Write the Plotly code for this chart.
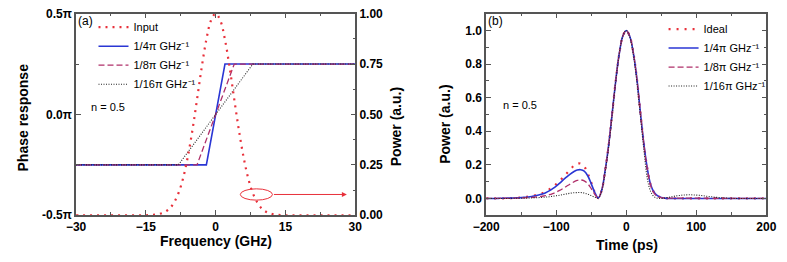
import plotly.graph_objects as go

# ---------------- Panel (a) data ----------------
freq = list(range(-30, 31))
input_power = [0, 0, 0, 0, 0, 0, 0, 0, 0, 0, 0, 0, 0, 0, 0, 0,
               0.001, 0.003, 0.007, 0.015, 0.031, 0.061, 0.109, 0.183, 0.288, 0.421,
               0.575, 0.733, 0.871, 0.966, 1.0, 0.966, 0.871, 0.733, 0.575, 0.421,
               0.288, 0.183, 0.109, 0.061, 0.031, 0.015, 0.007, 0.003, 0.001,
               0, 0, 0, 0, 0, 0, 0, 0, 0, 0, 0, 0, 0, 0, 0, 0]

phase_f_q = [-30, -2, 2, 30]
phase_q = [-0.25, -0.25, 0.25, 0.25]      # units of pi
phase_f_e = [-30, -4, 4, 30]
phase_e = [-0.25, -0.25, 0.25, 0.25]
phase_f_s = [-30, -8, 8, 30]
phase_s = [-0.25, -0.25, 0.25, 0.25]

# ---------------- Panel (b) data ----------------
time_ps = list(range(-200, 205, 5))
ideal = [0, 0, 0, 0, 0.001, 0.001, 0.002, 0.002,
         0.003, 0.004, 0.006, 0.008, 0.011, 0.015, 0.019, 0.024, 0.031, 0.041, 0.053, 0.067,
         0.085, 0.105, 0.126, 0.149, 0.172, 0.194, 0.208, 0.207, 0.19, 0.15, 0.095, 0.038, 0.002,
         0.05, 0.17, 0.32, 0.51, 0.70, 0.86, 0.965, 1.0, 0.965, 0.87, 0.72, 0.52, 0.33, 0.18,
         0.08, 0.035, 0.015, 0.006, 0.002, 0.0,
         0, 0, 0, 0, 0, 0, 0, 0, 0, 0, 0, 0, 0, 0, 0, 0, 0, 0, 0, 0, 0, 0, 0, 0, 0, 0, 0, 0]
quarter = [0, 0, 0, 0, 0.001, 0.001, 0.002, 0.002,
           0.003, 0.004, 0.005, 0.007, 0.009, 0.012, 0.016, 0.020, 0.026, 0.034, 0.045, 0.058,
           0.073, 0.091, 0.110, 0.128, 0.145, 0.159, 0.169, 0.171, 0.163, 0.135, 0.088, 0.036, 0.003,
           0.05, 0.17, 0.32, 0.51, 0.70, 0.86, 0.965, 1.0, 0.965, 0.87, 0.72, 0.52, 0.33, 0.18,
           0.08, 0.035, 0.015, 0.006, 0.002, 0.0,
           0, 0, 0, 0, 0, 0, 0, 0, 0, 0, 0, 0, 0, 0, 0, 0, 0, 0, 0, 0, 0, 0, 0, 0, 0, 0, 0, 0]
eighth = [0, 0, 0, 0, 0, 0.001, 0.001, 0.001,
          0.002, 0.002, 0.003, 0.004, 0.005, 0.006, 0.008, 0.010, 0.013, 0.017, 0.022, 0.029,
          0.038, 0.048, 0.060, 0.073, 0.086, 0.098, 0.107, 0.110, 0.105, 0.088, 0.058, 0.025, 0.002,
          0.05, 0.17, 0.32, 0.51, 0.70, 0.86, 0.965, 1.0, 0.965, 0.87, 0.72, 0.52, 0.33, 0.175,
          0.075, 0.03, 0.012, 0.005, 0.002, 0.001,
          0.002, 0.002, 0.002, 0.002, 0.002, 0.002, 0.002, 0.002, 0.002, 0.002, 0.001, 0.001, 0.001, 0.001,
          0, 0, 0, 0, 0, 0, 0, 0, 0, 0, 0, 0, 0, 0]
sixteenth = [0, 0, 0, 0, 0, 0, 0, 0,
             0.001, 0.001, 0.001, 0.002, 0.002, 0.003, 0.004, 0.005, 0.006, 0.008, 0.010, 0.013,
             0.016, 0.019, 0.023, 0.027, 0.031, 0.034, 0.035, 0.035, 0.032, 0.026, 0.017, 0.008, 0.002,
             0.045, 0.16, 0.31, 0.50, 0.70, 0.86, 0.965, 1.0, 0.96, 0.86, 0.70, 0.50, 0.30, 0.12,
             0.04, 0.01, 0.001, 0.0, 0.002, 0.006,
             0.010, 0.014, 0.017, 0.020, 0.021, 0.022, 0.021, 0.020, 0.018, 0.016, 0.013, 0.011, 0.008, 0.006,
             0.004, 0.003, 0.002, 0.001, 0, 0, 0, 0, 0, 0, 0, 0, 0, 0]

labels_a = ["Input", "1/4\u03c0 GHz\u207b\u00b9", "1/8\u03c0 GHz\u207b\u00b9", "1/16\u03c0 GHz\u207b\u00b9"]
labels_b = ["Ideal", "1/4\u03c0 GHz\u207b\u00b9", "1/8\u03c0 GHz\u207b\u00b9", "1/16\u03c0 GHz\u207b\u00b9"]
phase_ticks = [-0.5, 0.0, 0.5]
phase_ticktext = ["-0.5\u03c0", "0.0\u03c0", "0.5\u03c0"]

RED = "#e8303a"
BLUE = "#2a36d4"
PURPLE = "#b0306a"
BLACK = "#222222"
FONT = "Liberation Sans"

W, H = 787, 262
fig = go.Figure()

# Panel (a)
fig.add_trace(go.Scatter(x=freq, y=input_power, name=labels_a[0], mode="lines", line_shape="spline",
                         line=dict(color=RED, width=2.2, dash="2px,5px"), xaxis="x", yaxis="y2", legend="legend"))
fig.add_trace(go.Scatter(x=phase_f_q, y=phase_q, name=labels_a[1], mode="lines",
                         line=dict(color=BLUE, width=1.6), xaxis="x", yaxis="y", legend="legend"))
fig.add_trace(go.Scatter(x=phase_f_e, y=phase_e, name=labels_a[2], mode="lines",
                         line=dict(color=PURPLE, width=1.3, dash="6px,3px"), xaxis="x", yaxis="y", legend="legend"))
fig.add_trace(go.Scatter(x=phase_f_s, y=phase_s, name=labels_a[3], mode="lines",
                         line=dict(color=BLACK, width=1.1, dash="1px,1.5px"), xaxis="x", yaxis="y", legend="legend"))

# Panel (b)
fig.add_trace(go.Scatter(x=time_ps, y=ideal, name=labels_b[0], mode="lines", line_shape="spline",
                         line=dict(color=RED, width=2.2, dash="2px,6px"), xaxis="x2", yaxis="y3", legend="legend2"))
fig.add_trace(go.Scatter(x=time_ps, y=quarter, name=labels_b[1], mode="lines", line_shape="spline",
                         line=dict(color=BLUE, width=1.6), xaxis="x2", yaxis="y3", legend="legend2"))
fig.add_trace(go.Scatter(x=time_ps, y=eighth, name=labels_b[2], mode="lines", line_shape="spline",
                         line=dict(color=PURPLE, width=1.3, dash="6px,3px"), xaxis="x2", yaxis="y3", legend="legend2"))
fig.add_trace(go.Scatter(x=time_ps, y=sixteenth, name=labels_b[3], mode="lines", line_shape="spline",
                         line=dict(color=BLACK, width=1.1, dash="1px,1.5px"), xaxis="x2", yaxis="y3", legend="legend2"))

axis_common = dict(showgrid=False, zeroline=False, showline=True, linecolor="#555555", linewidth=1.5,
                   ticks="inside", ticklen=5, tickwidth=1.2, tickcolor="#555555",
                   tickfont=dict(family=FONT, size=12, color="black", weight="bold"))
minor_common = dict(ticks="inside", ticklen=3, tickwidth=1, tickcolor="#555555")

x_dom_a = [64 / W, 352 / W]
x_dom_b = [487 / W, 776 / W]
y_dom = [(H - 220) / H, (H - 7) / H]

fig.update_layout(
    width=W, height=H, margin=dict(l=0, r=0, t=0, b=0),
    paper_bgcolor="white", plot_bgcolor="white",
    font=dict(family=FONT, size=11, color="black"),
    xaxis=dict(domain=x_dom_a, range=[-30, 30], tickvals=[-30, -15, 0, 15, 30], mirror="ticks",
               minor=dict(dtick=7.5, **minor_common), anchor="y", **axis_common),
    yaxis=dict(domain=y_dom, range=[-0.5, 0.5], tickvals=phase_ticks, ticktext=phase_ticktext,
               minor=dict(dtick=0.25, **minor_common), anchor="x", mirror=False, **axis_common),
    yaxis2=dict(domain=y_dom, range=[0, 1], overlaying="y", side="right", anchor="x",
                tickvals=[0, 0.25, 0.5, 0.75, 1.0], ticktext=["0.00", "0.25", "0.50", "0.75", "1.00"],
                minor=dict(dtick=0.125, **minor_common), **axis_common),
    xaxis2=dict(domain=x_dom_b, range=[-200, 200], tickvals=[-200, -100, 0, 100, 200], mirror="ticks",
                minor=dict(dtick=50, **minor_common), anchor="y3", **axis_common),
    yaxis3=dict(domain=y_dom, range=[-0.1, 1.1], tickvals=[0, 0.2, 0.4, 0.6, 0.8, 1.0],
                ticktext=["0.0", "0.2", "0.4", "0.6", "0.8", "1.0"], mirror="ticks",
                minor=dict(dtick=0.1, **minor_common), anchor="x2", **axis_common),
    legend=dict(x=82 / W, y=1 - 6 / H, xanchor="left", yanchor="top", bgcolor="rgba(0,0,0,0)",
                font=dict(family=FONT, size=11), tracegroupgap=0, itemwidth=30),
    legend2=dict(x=670 / W, y=1 - 8 / H, xanchor="left", yanchor="top", bgcolor="rgba(0,0,0,0)",
                 font=dict(family=FONT, size=11), tracegroupgap=0, itemwidth=30),
    showlegend=True,
)

title_font = dict(family=FONT, size=14, color="black", weight="bold")
annots = [
    dict(text="Phase response", x=9 / W, y=1 - 117 / H, textangle=-90, font=title_font),
    dict(text="Power (a.u.)", x=394 / W, y=1 - 126 / H, textangle=-90, font=title_font),
    dict(text="Frequency (GHz)", x=208 / W, y=1 - 247 / H, font=title_font),
    dict(text="Power (a.u.)", x=445 / W, y=1 - 124 / H, textangle=-90, font=title_font),
    dict(text="Time (ps)", x=632 / W, y=1 - 251 / H, font=title_font),
    dict(text="(a)", x=74 / W, y=1 - 15 / H, font=dict(family=FONT, size=12)),
    dict(text="(b)", x=497 / W, y=1 - 15 / H, font=dict(family=FONT, size=12)),
    dict(text="n = 0.5", x=97 / W, y=1 - 106 / H, font=dict(family=FONT, size=11)),
    dict(text="n = 0.5", x=522 / W, y=1 - 104 / H, font=dict(family=FONT, size=11)),
]
for a in annots:
    a.update(xref="paper", yref="paper", showarrow=False, xanchor="center", yanchor="middle")
    fig.add_annotation(**a)

# ellipse and arrow pointing to the right-hand axis
fig.add_shape(type="circle", xref="x", yref="y2", x0=5.3, x1=12.2, y0=0.075, y1=0.131,
              line=dict(color=RED, width=1))
fig.add_annotation(x=28.2, y=0.103, ax=12.2, ay=0.103, xref="x", yref="y2", axref="x", ayref="y2",
                   showarrow=True, arrowhead=2, arrowsize=1, arrowwidth=1, arrowcolor=RED, text="")

fig.write_html("out.html", config={"displayModeBar": False},
               post_script="document.body.style.margin='0px';document.body.style.padding='0px';"
                           "document.documentElement.style.overflow='hidden';")
